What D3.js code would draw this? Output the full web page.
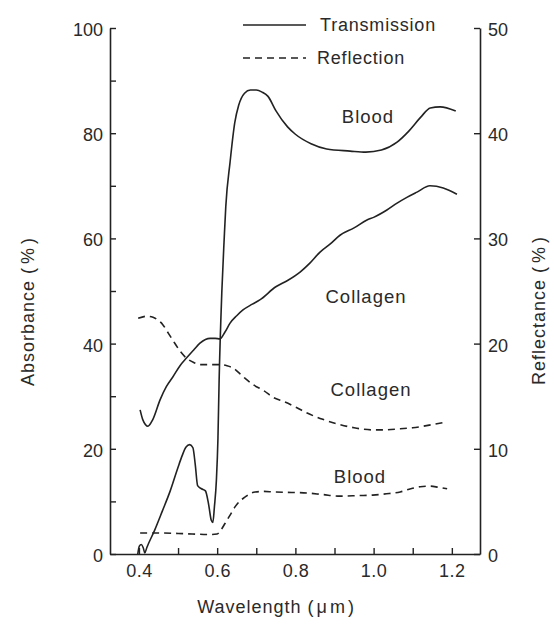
<!DOCTYPE html>
<html><head><meta charset="utf-8">
<script src="https://cdn.jsdelivr.net/npm/d3@7"></script>
<style>
body{margin:0;background:#fff;}
svg text{font-family:"Liberation Sans",Arial,Helvetica,sans-serif;fill:#2a2a2a;}
</style></head><body>
<svg id="c" width="554" height="626"></svg>
<script>
// ---- data ----
const wavelengthTicks = [0.4,0.5,0.6,0.7,0.8,0.9,1.0,1.1,1.2];
const wavelengthLabels = ["0.4","","0.6","","0.8","","1.0","","1.2"];
const absorbanceTicks = [0,20,40,60,80,100];
const absorbanceMinorTicks = [10,30,50,70,90];
const reflectanceTicks = [0,10,20,30,40,50];

// Transmission (absorbance %, left axis)
const bloodTransmission = [
 [0.397,0],[0.401,1.5],[0.406,1.8],[0.411,1.2],[0.415,0.2],[0.420,1.2],[0.440,4.5],[0.460,8.2],
 [0.480,12],[0.500,16.5],[0.510,18.6],[0.520,20.3],[0.530,20.8],[0.538,20.2],[0.544,17],
 [0.550,13],[0.560,12.4],[0.570,12],[0.578,9.5],[0.585,6.4],[0.589,6],[0.593,9],[0.598,14],
 [0.602,22],[0.605,33],[0.612,50],[0.618,60],[0.622,66],[0.633,74.5],[0.645,82],[0.655,85.3],
 [0.670,87.6],[0.685,88.2],[0.700,88.2],[0.715,87.8],[0.730,87],[0.750,84.3],[0.780,81.2],
 [0.800,79.8],[0.840,78],[0.880,77],[0.940,76.6],[0.980,76.4],[1.020,76.8],[1.060,78.3],
 [1.090,80.4],[1.120,83],[1.145,84.8],[1.170,85],[1.210,84.2]
];
const collagenTransmission = [
 [0.403,27.4],[0.410,25.5],[0.423,24.3],[0.435,25.5],[0.454,29.3],[0.470,31.8],[0.487,33.7],
 [0.505,35.8],[0.522,37.3],[0.540,38.8],[0.556,40.1],[0.570,40.8],[0.582,41],[0.595,41],
 [0.607,40.9],[0.620,42.2],[0.633,43.9],[0.650,45.3],[0.666,46.4],[0.690,47.5],[0.709,48.3],
 [0.750,50.8],[0.780,52],[0.812,53.6],[0.837,55.3],[0.863,57.4],[0.890,59],[0.914,60.6],
 [0.950,62],[0.983,63.5],[1.000,64],[1.034,65.4],[1.060,66.7],[1.085,67.8],[1.111,68.8],
 [1.144,70],[1.178,69.6],[1.213,68.4]
];
// Reflection (reflectance %, right axis)
const collagenReflection = [
 [0.398,22.4],[0.420,22.6],[0.436,22.5],[0.450,22.2],[0.461,21.8],[0.475,21],[0.487,20.3],
 [0.505,19.3],[0.522,18.6],[0.540,18.2],[0.556,18],[0.580,18],[0.607,18],[0.625,17.9],
 [0.640,17.7],[0.665,16.9],[0.692,16.1],[0.720,15.5],[0.743,14.9],[0.770,14.5],[0.804,13.9],
 [0.830,13.4],[0.870,12.8],[0.914,12.3],[0.950,12],[0.998,11.8],[1.030,11.8],[1.068,11.9],
 [1.100,12],[1.119,12.1],[1.150,12.3],[1.178,12.5]
];
const bloodReflection = [
 [0.403,2],[0.450,2],[0.500,1.95],[0.536,1.9],[0.580,1.85],[0.600,1.9],[0.610,2.3],[0.620,2.9],
 [0.633,3.7],[0.646,4.5],[0.660,5.1],[0.671,5.4],[0.685,5.75],[0.697,5.9],[0.720,5.95],
 [0.743,5.9],[0.790,5.85],[0.830,5.8],[0.870,5.65],[0.914,5.5],[0.960,5.55],[0.998,5.6],
 [1.040,5.75],[1.068,5.9],[1.095,6.2],[1.119,6.4],[1.144,6.45],[1.165,6.35],[1.188,6.2]
];
const legendLabels = ["Transmission","Reflection"];

// ---- layout ----
const svg = d3.select("#c");
const L = 110, R = 480, T = 28, B = 554;
const x = d3.scaleLinear().domain([0.326,1.272]).range([L,R]);
const yA = d3.scaleLinear().domain([0,100]).range([B,T]);
const yR = d3.scaleLinear().domain([0,50]).range([B,T]);
const ink = "#222";

function styleAxis(g, fs){
  g.select(".domain").attr("stroke",ink).attr("stroke-width",1.6);
  g.selectAll(".tick line").attr("stroke",ink).attr("stroke-width",1.4);
  g.selectAll("text").attr("font-size",fs).attr("fill","#2a2a2a").attr("font-family",null);
}

// left axis
const gl = svg.append("g").attr("transform",`translate(${L},0)`)
  .call(d3.axisLeft(yA).tickValues(absorbanceTicks).tickSizeInner(-6).tickSizeOuter(0).tickPadding(7));
styleAxis(gl,18);
gl.selectAll("text").attr("dy","0.42em");
svg.append("g").attr("transform",`translate(${L},0)`)
  .call(d3.axisLeft(yA).tickValues(absorbanceMinorTicks).tickSizeInner(-6).tickSizeOuter(0).tickFormat(""))
  .call(g=>{g.select(".domain").remove(); g.selectAll(".tick line").attr("stroke",ink).attr("stroke-width",1.4);});

// right axis
const gr = svg.append("g").attr("transform",`translate(${R},0)`)
  .call(d3.axisRight(yR).tickValues(reflectanceTicks).tickSizeInner(-6).tickSizeOuter(0).tickPadding(8));
styleAxis(gr,18);
gr.selectAll("text").attr("dy","0.42em");

// bottom axis
const gb = svg.append("g").attr("transform",`translate(0,${B})`)
  .call(d3.axisBottom(x).tickValues(wavelengthTicks).tickSizeInner(-6).tickSizeOuter(0).tickPadding(10)
    .tickFormat((d,i)=>wavelengthLabels[i]));
styleAxis(gb,18);
gb.selectAll("text").attr("letter-spacing","0.5px");

// axis titles
svg.append("text").attr("transform","translate(34,310) rotate(-90)").attr("text-anchor","middle")
  .attr("font-size",18).attr("letter-spacing","1px").text("Absorbance ")
  .append("tspan").attr("letter-spacing","4px").text("(%)");
svg.append("text").attr("transform","translate(545,309) rotate(-90)").attr("text-anchor","middle")
  .attr("font-size",18).attr("letter-spacing","1px").text("Reflectance ")
  .append("tspan").attr("letter-spacing","4px").text("(%)");
svg.append("text").attr("x",277).attr("y",613).attr("text-anchor","middle")
  .attr("font-size",18).attr("letter-spacing","1px").text("Wavelength ")
  .append("tspan").attr("letter-spacing","3px").text("(μm)");

// curves
const lineA = d3.line().x(d=>x(d[0])).y(d=>yA(d[1])).curve(d3.curveMonotoneX);
const lineR = d3.line().x(d=>x(d[0])).y(d=>yR(d[1])).curve(d3.curveMonotoneX);
[bloodTransmission, collagenTransmission].forEach(s=>{
  svg.append("path").attr("d",lineA(s)).attr("fill","none").attr("stroke",ink).attr("stroke-width",1.6);
});
[collagenReflection, bloodReflection].forEach(s=>{
  svg.append("path").attr("d",lineR(s)).attr("fill","none").attr("stroke",ink).attr("stroke-width",1.6)
    .attr("stroke-dasharray","7,5");
});

// curve labels
const curveLabels = [["Blood",368,123],["Collagen",366,303],["Collagen",371,396],["Blood",360,483]];
curveLabels.forEach(c=>svg.append("text").attr("x",c[1]).attr("y",c[2]).attr("text-anchor","middle")
  .attr("font-size",18.5).attr("letter-spacing","1px").text(c[0]));

// legend
const leg = svg.append("g");
legendLabels.forEach((t,i)=>{
  const yy = [25,58][i];
  leg.append("line").attr("x1",243).attr("x2",306).attr("y1",yy).attr("y2",yy)
    .attr("stroke",ink).attr("stroke-width",1.6).attr("stroke-dasharray",i? "7,5":null);
  leg.append("text").attr("x",[320,317][i]).attr("y",yy+6).attr("font-size",18)
    .attr("letter-spacing","0.8px").text(t);
});
</script>
</body></html>
